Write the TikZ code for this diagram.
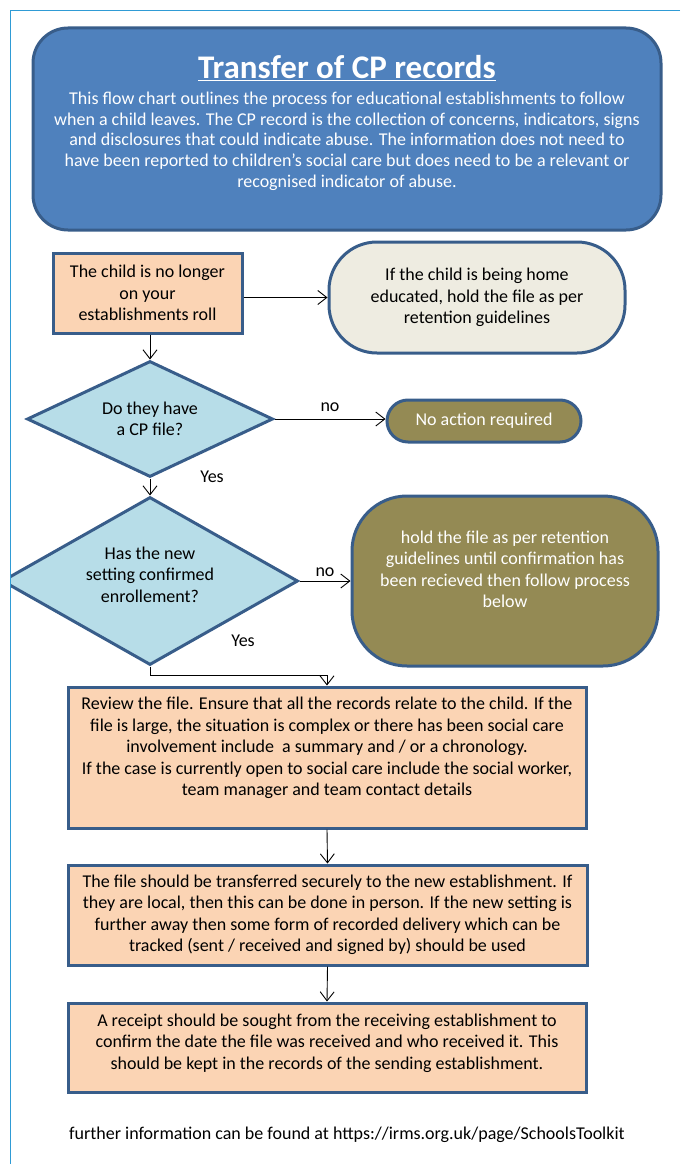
\documentclass[tikz,border=0pt]{standalone}
\usepackage{fontspec}
\setmainfont{Carlito}
\usetikzlibrary{shapes.geometric,arrows.meta}

\definecolor{frameblue}{HTML}{2F9BD5}
\definecolor{headfill}{HTML}{4F81BD}
\definecolor{edgeblue}{HTML}{385D8A}
\definecolor{peach}{HTML}{FBD4B4}
\definecolor{paleblue}{HTML}{B7DDE8}
\definecolor{beige}{HTML}{EEECE1}
\definecolor{olive}{HTML}{948A54}

\begin{document}
\begin{tikzpicture}[x=1pt, y=-1pt,
    every node/.style={font=\fontsize{18}{21.5}\selectfont, align=center},
    procbox/.style={rectangle, draw=edgeblue, line width=3pt, fill=peach},
    decision/.style={diamond, draw=edgeblue, line width=3pt, fill=paleblue, inner sep=0pt, shape aspect=2},
    endbox/.style={rectangle, draw=edgeblue, line width=3pt, text=white, fill=olive},
    arr/.style={-{Straight Barb[length=9pt,width=14pt]}, line width=0.9pt}]
  \useasboundingbox (0,0) rectangle (680,1164);

  % heading
  \node[rectangle, rounded corners=35pt, draw=edgeblue, line width=3pt, fill=headfill,
        minimum width=628pt, minimum height=202pt] (head) at (347,129) {};
  \node[text=white, font=\fontsize{18}{20.8}\selectfont] (headtxt) at (347,123) {%
    {\fontsize{33}{36}\selectfont\bfseries\underline{Transfer of CP records}}\\[5pt]
    This flow chart outlines the process for educational establishments to follow\\
    when a child leaves. The CP record is the collection of concerns, indicators, signs\\
    and disclosures that could indicate abuse. The information does not need to\\
    have been reported to children's social care but does need to be a relevant or\\
    recognised indicator of abuse.};

  % first row
  \node[procbox, minimum width=189pt, minimum height=80pt] (leave) at (147.5,293)
    {The child is no longer\\on your\\establishments roll};
  \node[rectangle, rounded corners=48pt, draw=edgeblue, line width=3pt, fill=beige,
        minimum width=296pt, minimum height=111pt] (home) at (477,297.5)
    {If the child is being home\\educated, hold the file as per\\retention guidelines};

  % decisions
  \node[decision, minimum width=246pt, minimum height=116pt] (cpfile) at (150,419)
    {Do they have\\a CP file?};
  \node[endbox, rounded corners=21pt, minimum width=194pt, minimum height=42pt] (noact) at (484,421)
    {No action required};
  \node[decision, text depth=13pt, minimum width=296pt, minimum height=168pt] (enrol) at (150,581)
    {Has the new\\setting confirmed\\enrollement?};
  \node[endbox, text depth=24pt, rounded corners=55pt, minimum width=306pt, minimum height=170pt] (hold) at (505,581)
    {hold the file as per retention\\guidelines until confirmation has\\been recieved then follow process\\below};
  \node (yes1) at (212,477) {Yes};
  \node (yes2) at (243,641) {Yes};

  % process steps
  \node[procbox, text depth=22pt, minimum width=518pt, minimum height=141pt] (review) at (327,757.5)
    {Review the file. Ensure that all the records relate to the child. If the\\
     file is large, the situation is complex or there has been social care\\
     involvement include\ \ a summary and / or a chronology.\\
     If the case is currently open to social care include the social worker,\\
     team manager and team contact details};
  \node[procbox, minimum width=519pt, minimum height=100pt] (transfer) at (327.5,915)
    {The file should be transferred securely to the new establishment. If\\
     they are local, then this can be done in person. If the new setting is\\
     further away then some form of recorded delivery which can be\\
     tracked (sent / received and signed by) should be used};
  \node[procbox, text depth=12pt, minimum width=518pt, minimum height=89pt] (receipt) at (327,1047.5)
    {A receipt should be sought from the receiving establishment to\\
     confirm the date the file was received and who received it. This\\
     should be kept in the records of the sending establishment.};
  \node (footer) at (347,1135) {further information can be found at https://irms.org.uk/page/SchoolsToolkit};

  % connectors
  \draw[arr] (leave.east |- home.west) -- (home.west);
  \draw[arr] (leave.south -| cpfile.north) -- (cpfile.north);
  \draw[arr] (cpfile.east) -- node[above=4pt] {no} (cpfile.east -| noact.west);
  \draw[arr] (cpfile.south) -- (enrol.north);
  \draw[arr] (enrol.east) -- node[above=1pt] {no} (hold.west);
  \draw[arr] (enrol.south) |- ([yshift=10pt]review.north) -- (review.north);
  \draw[arr] (review.south) -- (transfer.north);
  \draw[arr] (transfer.south) -- (receipt.north);

  % page edge (cuts the second diamond)
  \fill[white] (0,0) rectangle (10,1164);
  \draw[frameblue, line width=1pt] (680,11) -- (10,11) -- (10,1164);
\end{tikzpicture}
\end{document}
